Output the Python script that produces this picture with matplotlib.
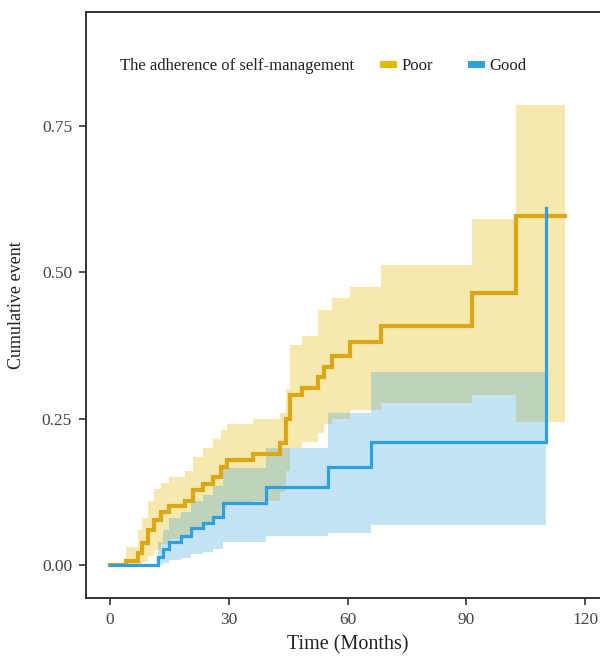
import matplotlib
matplotlib.use("Agg")
import matplotlib.pyplot as plt
from matplotlib.lines import Line2D

plt.rcParams['font.family'] = ['Liberation Serif', 'DejaVu Serif']

# ---- data ----
poor_time = [0, 4, 7, 8, 9.5, 11, 13, 15, 19, 21, 23.5, 26, 28, 29.5, 36, 43, 44.5, 45.5,
             48.5, 52.5, 54, 56, 60.5, 68.5, 91.5, 102.5, 115]
poor_est = [0, .006, .02, .037, .06, .077, .09, .10, .11, .128, .138, .15, .167, .18, .19, .208,
            .25, .29, .302, .32, .338, .357, .38, .408, .464, .596, .596]
poor_upper = [0, .03, .06, .08, .11, .13, .14, .15, .16, .185, .20, .215, .23, .24, .25, .26,
              .30, .375, .39, .435, .435, .455, .475, .512, .59, .785, .785]
poor_lower = [0, 0, 0, .005, .015, .025, .035, .045, .05, .065, .07, .08, .095, .105, .11, .125,
              .16, .20, .21, .225, .24, .25, .265, .276, .29, .244, .244]

good_time = [0, 12, 13.5, 15, 18, 20.5, 23.5, 26, 28.5, 39.5, 55, 66, 110]
good_est = [0, .013, .027, .04, .05, .063, .072, .082, .105, .133, .167, .21, .61]
good_upper = [0, .04, .06, .08, .09, .11, .12, .135, .165, .20, .26, .33, .33]
good_lower = [0, 0, .003, .008, .012, .018, .022, .027, .04, .05, .055, .068, .068]

x_ticks = [0, 30, 60, 90, 120]
y_ticks = [0.00, 0.25, 0.50, 0.75]
y_ticklabels = ["0.00", "0.25", "0.50", "0.75"]
legend_title = "The adherence of self-management"
groups = ["Poor", "Good"]

gold = "#E7B800"
gold_line = "#DBA714"
blue = "#2E9FDF"

fig = plt.figure(figsize=(6.0, 6.57), dpi=100)
ax = fig.add_axes([86/600, 59/657, 523/600, 586/657])

ax.fill_between(poor_time, poor_lower, poor_upper, step='post', color=gold, alpha=0.32, lw=0)
ax.fill_between(good_time, good_lower, good_upper, step='post', color=blue, alpha=0.28, lw=0)
ax.step(poor_time, poor_est, where='post', color=gold_line, lw=3.0, solid_joinstyle='miter')
ax.step(good_time, good_est, where='post', color=blue, lw=2.3, solid_joinstyle='miter')

ax.set_xlim(-6.06, 126)
ax.set_ylim(-0.0563, 0.9437)
ax.set_xticks(x_ticks)
ax.set_yticks(y_ticks)
ax.set_yticklabels(y_ticklabels)
ax.tick_params(axis='both', direction='out', length=5, width=1.2, color='#333333',
               labelsize=12.5, labelcolor='#444444', pad=5)
ax.tick_params(axis='x', pad=5)
for side in ['left', 'bottom', 'top', 'right']:
    ax.spines[side].set_color('#333333')
    ax.spines[side].set_linewidth(1.4)

ax.set_ylabel("Cumulative event", fontsize=13, color='#222222', labelpad=12)
ax.set_xlabel("Time (Months)", fontsize=14.5, color='#222222', labelpad=5)

fig.text(120/600, 1 - 66/657, legend_title, fontsize=12, color='#222222',
         ha='left', va='center')
handles = [Line2D([0], [0], color=gold, lw=5), Line2D([0], [0], color=blue, lw=5)]
leg = fig.legend(handles, groups, loc='center left', bbox_to_anchor=(368/600, 1 - 66/657),
                 ncol=2, frameon=False, fontsize=12, handlelength=0.6,
                 handletextpad=0.5, columnspacing=2.3)
for t in leg.get_texts():
    t.set_color('#222222')

fig.savefig("out.png", dpi=100)
